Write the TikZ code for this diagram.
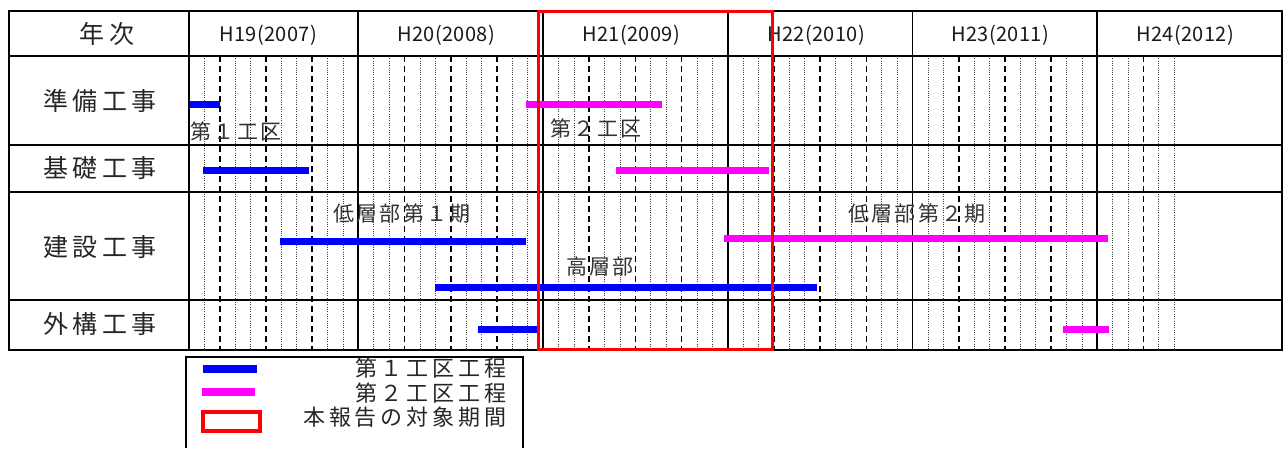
\documentclass[tikz,border=0pt]{standalone}
\usepackage{fontspec}
\setmainfont{Noto Sans CJK JP}
\newfontfamily\rowf[LetterSpace=18]{Noto Sans CJK JP}
\newfontfamily\yearf[LetterSpace=2]{Noto Sans CJK JP}
\newfontfamily\labf[LetterSpace=10]{Noto Sans CJK JP}
\newfontfamily\legf[LetterSpace=18]{Noto Sans CJK JP}
\definecolor{cblue}{RGB}{0,0,255}
\definecolor{cmag}{RGB}{255,0,255}
\definecolor{cred}{RGB}{255,0,0}
\begin{document}
\begin{tikzpicture}[x=1pt,y=-1pt,
  gridline/.style={line width=1.8pt},
  qline/.style={line width=1.6pt, dash pattern=on 6pt off 4pt},
  mline/.style={line width=0.7pt, black!75, dash pattern=on 0.8pt off 1.5pt},
  bar/.style={line width=7pt},
  bone/.style={bar, draw=cblue},
  btwo/.style={bar, draw=cmag},
  rowlab/.style={inner sep=0pt, font=\rowf\fontsize{25}{25}\selectfont, text=black!85},
  yearlab/.style={inner sep=0pt, font=\yearf\fontsize{20}{20}\selectfont, text=black!90},
  barlab/.style={inner sep=0pt, font=\labf\fontsize{21}{21}\selectfont, text=black!80},
  leglab/.style={inner sep=0pt, anchor=east, font=\legf\fontsize{22}{22}\selectfont, text=black!85}]
\useasboundingbox (0,0) rectangle (1287,448);
% month grid
\foreach \m in {1,...,64}{
  \pgfmathsetmacro\xx{189+\m*15.394}
  \pgfmathtruncatemacro\ry{mod(\m,12)}
  \pgfmathtruncatemacro\rq{mod(\m,3)}
  \ifnum\ry=11\relax\else
    \ifnum\rq=2\relax
      \draw[qline] (\xx,56) -- (\xx,350);
    \else
      \draw[mline] (\xx,56) -- (\xx,350);
    \fi
  \fi
}
% table frame
\draw[gridline] (9,11) rectangle (1282,350);
\draw[gridline] (9,56) -- (1282,56);
\draw[gridline] (9,145) -- (1282,145);
\draw[gridline] (9,192) -- (1282,192);
\draw[gridline] (9,300) -- (1282,300);
\draw[gridline] (189,11) -- (189,350);
\foreach \m in {11,23,35,47,59}{
  \pgfmathsetmacro\xx{189+\m*15.394}
  \draw[gridline] (\xx,11) -- (\xx,350);
}
% headers
\node[rowlab] (hnen) at (107,34) {年次};
\node[yearlab] (y19) at (268,35) {H19(2007)};
\node[yearlab] (y20) at (446,35) {H20(2008)};
\node[yearlab] (y21) at (631,35) {H21(2009)};
\node[yearlab] (y22) at (816,35) {H22(2010)};
\node[yearlab] (y23) at (1000,35) {H23(2011)};
\node[yearlab] (y24) at (1185,35) {H24(2012)};
\node[rowlab] (r1) at (100,101) {準備工事};
\node[rowlab] (r2) at (100,168) {基礎工事};
\node[rowlab] (r3) at (100,247) {建設工事};
\node[rowlab] (r4) at (100,324) {外構工事};
% bars
\draw[bone] (190,104) -- (220,104);
\draw[btwo] (526,104) -- (662,104);
\draw[bone] (203,170) -- (309,170);
\draw[btwo] (616,170) -- (769,170);
\draw[bone] (280,241) -- (526,241);
\draw[btwo] (724,238) -- (1108,238);
\draw[bone] (435,287) -- (817,287);
\draw[bone] (478,329) -- (540,329);
\draw[btwo] (1063,329) -- (1109,329);
% bar labels
\node[barlab] (l1) at (236,131) {第１工区};
\node[barlab] (l2) at (596,128) {第２工区};
\node[barlab] (l3) at (402,214) {低層部第１期};
\node[barlab] (l4) at (917,214) {低層部第２期};
\node[barlab] (l5) at (600,267) {高層部};
% period of report
\draw[cred, line width=3pt] (538,11) rectangle (772,349);
% legend
\draw[line width=1.2pt] (186,448) -- (186,357) -- (523,357) -- (523,448);
\draw[cblue, line width=8pt] (203,369) -- (257,369);
\draw[cmag, line width=8pt] (202,392) -- (255,392);
\draw[cred, line width=3.5pt] (203,412) rectangle (260,431);
\node[leglab] (g1) at (507,368) {第１工区工程};
\node[leglab] (g2) at (507,393) {第２工区工程};
\node[leglab] (g3) at (507,417) {本報告の対象期間};
\end{tikzpicture}
\end{document}
